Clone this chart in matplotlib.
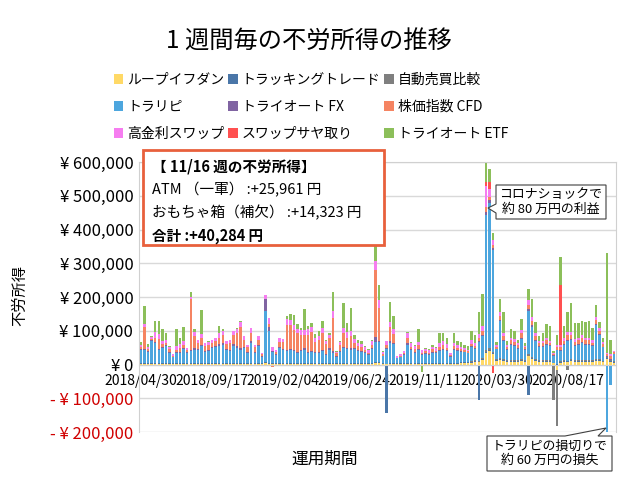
import numpy as np
import pandas as pd
import matplotlib
matplotlib.use("Agg")
import matplotlib.pyplot as plt
from matplotlib.patches import Rectangle, Polygon

plt.rcParams['font.family'] = ['Noto Sans CJK JP', 'DejaVu Sans']

# weekly categories 2018/04/30 .. 2020/11/16
weeks = pd.date_range('2018-04-30', '2020-11-16', freq='7D')
tick_every = 20

names = ['ループイフダン', 'トラッキングトレード', '自動売買比較',
         'トラリピ', 'トライオート FX', '株価指数 CFD',
         '高金利スワップ', 'スワップサヤ取り', 'トライオート ETF']
colors = ['#FFD966', '#4A76A8', '#7F7F7F',
          '#4DA6DE', '#8064A2', '#F58462',
          '#F67DF0', '#FF5050', '#8CBF5A']

# values in thousand yen, one per week
loop_ifdone = [1,1,1,1,1,1,1,1,1,1, 1,1,1,1,1,1,1,1,1,1, 1,1,1,1,1,1,1,1,1,1,
               1,1,1,1,1,5,2,1,1,1, 1,1,1,1,1,1,1,1,1,1, 1,1,1,1,2,1,1,1,1,1,
               1,1,1,1,1,2,3,3,2,2, 2,2,1,1,1,1,1,1,1,1, 1,1,1,1,1,1,1,1,1,1,
               4,4,4,5,6,8,12,35,40,30, 10,12,10,8,8,8,7,10,8,25,
               15,10,8,8,8,8,3,-15,5,6, 8,10,8,8,8,8,8,8,10,10, 6,15,8,5]
tracking = [2,3,2,3,3,3,2,3,2,2, 2,2,3,2,3,3,2,3,2,2, 3,3,3,3,2,2,3,3,3,3,
            2,3,2,3,2,3,3,2,2,3, 2,3,3,3,3,3,3,3,3,3, 3,3,2,3,3,2,2,3,3,3,
            3,2,2,2,2,3,3,3,2,-144, 3,3,2,2,2,3,3,2,3,2, 2,2,3,2,3,3,3,2,3,3,
            2,2,2,3,3,-106,3,3,3,3, 2,3,3,2,3,3,2,3,2,-89,
            3,3,2,2,3,3,2,2,2,3, 3,3,3,3,3,3,3,3,3,3, 2,3,2,2]
hikaku = [0]*90 + [2,2,2,3,3,3,4,5,5,5, 3,4,3,3,3,3,3,4,3,5,
                   4,3,3,3,3,3,-104,-168,3,3, -15,4,3,3,3,3,3,3,4,4, 3,3,3,3]
torarip = [40,38,35,65,60,38,45,50,32,18, 30,30,42,30,35,40,40,50,35,38,
           45,48,52,55,40,38,50,45,40,45, 30,60,32,50,20,150,95,35,25,45,
           40,35,38,35,30,35,40,30,32,30, 30,35,25,40,30,20,35,45,42,40,
           42,38,35,30,25,40,60,60,20,45, 60,55,15,18,25,55,38,32,40,25,
           28,25,30,30,35,40,35,20,38,35, 30,28,25,40,35,55,65,400,430,300,
           30,110,55,30,45,40,35,60,30,130, 90,55,40,40,45,40,20,40,30,45,
           60,55,40,45,50,45,45,40,100,70, 40,-600,-60,20]
triauto_fx = [3,3,3,4,4,4,3,3,3,2, 3,3,3,3,4,4,3,4,3,3, 3,3,4,4,3,3,6,5,5,4,
              3,5,3,4,2,35,10,3,3,4, 3,4,4,4,4,4,4,4,4,3, 3,4,3,4,4,2,3,4,4,4,
              4,3,3,3,2,4,15,5,2,3, 5,4,2,2,2,4,3,3,3,2, 3,2,3,3,3,3,3,2,3,3,
              2,2,2,3,3,3,4,10,8,6, 2,4,3,2,3,3,2,3,2,5,
              4,3,2,2,3,3,2,2,2,3, 3,3,3,3,3,3,3,3,4,3, 2,3,3,2]
cfd = [5,65,5,2,12,30,10,7,8,2, 8,14,8,6,150,35,18,20,15,15,
       12,14,20,25,15,20,27,40,62,20, 15,25,13,15,5,0,10,-8,5,15,
       20,75,70,60,55,45,40,50,55,30, 35,50,30,30,100,8,18,40,30,35,
       15,10,10,8,5,10,200,95,6,8, 40,25,0,2,3,15,8,8,10,5,
       5,5,8,5,10,10,8,3,10,8, 5,4,4,8,6,10,12,15,10,10,
       5,10,10,8,10,10,8,12,6,10, 12,10,8,8,10,8,4,8,10,10,
       12,12,10,10,12,10,10,8,12,10, 8,6,10,4]
swap = [8,10,6,6,15,13,8,10,6,5, 10,10,12,6,8,12,8,12,8,8,
        10,10,12,12,8,10,12,12,15,11, 8,13,8,11,5,12,19,12,7,11,
        11,16,15,14,12,15,15,16,16,12, 12,16,8,10,20,5,8,15,15,15,
        12,10,10,8,8,12,25,25,6,12, 16,15,5,5,7,15,10,10,10,8,
        8,7,8,8,12,12,10,5,10,8, 6,6,5,10,8,12,15,60,25,15,
        6,12,10,6,8,8,7,10,5,15, 12,8,6,6,7,6,4,6,5,8,
        10,10,8,8,8,8,8,7,8,8, 5,5,6,4]
sayatori = [0]*97 + [12,20,-25] + [0]*18 + [180] + [0]*15
triauto_etf = [7,53,8,4,34,40,35,20,4,0, 50,20,43,2,15,10,2,71,0,2,
               0,0,22,6,0,0,0,3,3,0, 0,0,0,0,0,0,0,0,0,0,
               0,10,18,30,15,6,60,10,13,10, 15,20,5,6,56,2,2,75,27,70,
               10,10,8,2,2,3,44,44,2,0, 60,40,0,0,0,3,3,3,37,-23,
               3,3,6,4,28,23,19,2,27,11, 15,11,10,27,23,64,95,180,38,20,
               8,40,61,10,26,24,10,32,8,33, 55,35,15,25,40,43,5,28,82,36,
               59,86,47,42,42,47,49,36,35,19, 13,295,42,0]

series = [loop_ifdone, tracking, hikaku, torarip, triauto_fx,
          cfd, swap, sayatori, triauto_etf]

fig = plt.figure(figsize=(6.4, 4.8), dpi=100)
ax = fig.add_axes([0.217, 0.1, 0.7455, 0.5625])

x = np.arange(len(weeks))
pos_bottom = np.zeros(len(x))
neg_bottom = np.zeros(len(x))
handles = []
for name, col, vals in zip(names, colors, series):
    v = np.array(vals, dtype=float) * 1000
    pos = np.where(v > 0, v, 0)
    neg = np.where(v < 0, v, 0)
    h = ax.bar(x, pos, 0.7, bottom=pos_bottom, color=col, linewidth=0, label=name, zorder=2)
    ax.bar(x, neg, 0.7, bottom=neg_bottom, color=col, linewidth=0, zorder=2)
    pos_bottom += pos
    neg_bottom += neg
    handles.append(h)

ax.set_xlim(-0.6, len(x) - 0.4)
ax.set_ylim(-200000, 600000)

yt = np.arange(-200000, 600001, 100000)
ax.set_yticks(yt)
ylabels = []
for v in yt:
    if v < 0:
        ylabels.append('- ¥ {:,}'.format(-v))
    else:
        ylabels.append('¥ {:,}'.format(v))
ax.set_yticklabels(ylabels, fontsize=12)
for lab, v in zip(ax.get_yticklabels(), yt):
    lab.set_color('#D00000' if v < 0 else 'black')

ticks = x[::tick_every]
ax.set_xticks(ticks)
ax.set_xticklabels([weeks[i].strftime('%Y/%m/%d') for i in ticks], fontsize=8.4, color='#404040')
ax.tick_params(axis='y', length=0, pad=4)
ax.tick_params(axis='x', length=0, pad=7)

ax.grid(axis='y', color='#D9D9D9', linewidth=1, zorder=0)
for s in ['top', 'left', 'right']:
    ax.spines[s].set_color('#D0D0D0')
ax.spines['bottom'].set_position(('data', 0))
ax.spines['bottom'].set_color('#D0D0D0')

fig.text(309 / 640, 1 - 42 / 480, '1 週間毎の不労所得の推移', fontsize=17.5, ha='center', va='center')
fig.text(20 / 640, 1 - 295 / 480, '不労所得', fontsize=11, rotation=90, ha='center', va='center')
fig.text(325 / 640, 1 - 459 / 480, '運用期間', fontsize=12, ha='center', va='center')

# legend, filled row by row
order = [0, 3, 6, 1, 4, 7, 2, 5, 8]
fig.legend([handles[i] for i in order], [names[i] for i in order], ncol=3,
           loc='upper left', bbox_to_anchor=(101 / 640, 1 - 60 / 480),
           frameon=False, fontsize=10, handlelength=0.7, handleheight=0.7,
           handletextpad=0.3, columnspacing=0.25, labelspacing=0.95)

# weekly summary box
fig.patches.append(Rectangle((143 / 640, 1 - 245 / 480), 241 / 640, 95 / 480,
                             transform=fig.transFigure, facecolor='white',
                             edgecolor='#E8603C', linewidth=2, zorder=5))
info = [('【 11/16 週の不労所得】', 'bold', 167),
        ('ATM （一軍） :+25,961 円', 'normal', 190),
        ('おもちゃ箱（補欠） :+14,323 円', 'normal', 213),
        ('合計 :+40,284 円', 'bold', 236)]
for txt, w, yy in info:
    fig.text(152 / 640, 1 - yy / 480, txt, fontsize=10.5, fontweight=w,
             ha='left', va='center', zorder=6)


def callout(box, notch, tip, lines):
    x0, y0, x1, y1 = box
    a, b = notch[1], notch[2]
    if notch[0] == 'left':
        pts = [(x0, y0), (x1, y0), (x1, y1), (x0, y1), (x0, b), tip, (x0, a)]
    else:
        pts = [(x0, y0), (a, y0), tip, (b, y0), (x1, y0), (x1, y1), (x0, y1)]
    pts = [(px / 640, 1 - py / 480) for px, py in pts]
    fig.patches.append(Polygon(pts, closed=True, transform=fig.transFigure,
                               facecolor='white', edgecolor='#404040',
                               linewidth=0.8, zorder=5))
    fig.text((x0 + x1) / 2 / 640, 1 - (y0 + y1) / 2 / 480, lines, fontsize=9.3,
             ha='center', va='center', linespacing=1.15, zorder=6)


callout((496, 185, 606, 219), ('left', 204, 213), (488, 208),
        'コロナショックで\n約 80 万円の利益')
callout((487, 436, 612, 471), ('top', 565, 598), (606, 428),
        'トラリピの損切りで\n約 60 万円の損失')

fig.savefig('out.png', dpi=100)
